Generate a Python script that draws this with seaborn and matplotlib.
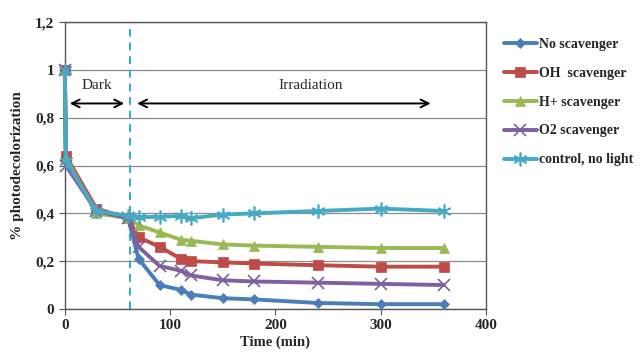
import matplotlib
matplotlib.use("Agg")
import matplotlib.pyplot as plt
import seaborn as sns
import pandas as pd

# Temps (min)
time = [0, 1, 30, 60, 70, 90, 110, 120, 150, 180, 240, 300, 360]

no_scav = [1.0, 0.64, 0.41, 0.38, 0.21, 0.10, 0.08, 0.06, 0.045, 0.04, 0.025, 0.02, 0.02]
oh_scav = [1.0, 0.64, 0.42, 0.38, 0.30, 0.26, 0.21, 0.20, 0.195, 0.19, 0.183, 0.177, 0.177]
h_scav = [1.0, 0.63, 0.40, 0.38, 0.35, 0.32, 0.29, 0.285, 0.27, 0.265, 0.26, 0.255, 0.255]
o2_scav = [1.0, 0.60, 0.41, 0.38, 0.26, 0.18, 0.16, 0.14, 0.12, 0.115, 0.11, 0.105, 0.10]
control = [1.0, 0.62, 0.41, 0.39, 0.385, 0.385, 0.39, 0.38, 0.395, 0.40, 0.41, 0.42, 0.41]

labels = ["No scavenger", "OH  scavenger", "H+ scavenger", "O2 scavenger", "control, no light"]
series = [no_scav, oh_scav, h_scav, o2_scav, control]
colors = ["#4A7EBB", "#BE4B48", "#98B954", "#7D60A0", "#46AAC5"]
markers = ["D", "s", "^", "x", (6, 2, 0)]
msizes = [5, 7, 7, 8, 10]

sns.set_style("white")
plt.rcParams["font.family"] = ["Liberation Serif", "DejaVu Serif"]

fig = plt.figure(figsize=(6.42, 3.58), dpi=100)
ax = fig.add_axes([0.101, 0.137, 0.656, 0.801])

for lab, vals, c, m, ms in zip(labels, series, colors, markers, msizes):
    df = pd.DataFrame({"t": time, "v": vals})
    sns.lineplot(data=df, x="t", y="v", ax=ax, color=c, marker=m, markersize=ms,
                 markeredgecolor=c, markeredgewidth=1.2 if m in ("x", (6, 2, 0)) else 0.5,
                 linewidth=2.8, label=lab, estimator=None, sort=False, legend=False,
                 clip_on=False, zorder=3)

ax.set_xlim(0, 400)
ax.set_ylim(0, 1.2)
ax.set_xticks([0, 100, 200, 300, 400])
ax.set_yticks([0, 0.2, 0.4, 0.6, 0.8, 1.0, 1.2])
ax.set_yticklabels(["0", "0,2", "0,4", "0,6", "0,8", "1", "1,2"])
ax.grid(axis="y", color="#8c8c8c", linewidth=0.9)
ax.set_axisbelow(True)
for s in ax.spines.values():
    s.set_color("#555555")
    s.set_linewidth(1.0)
ax.tick_params(axis="both", labelsize=11, length=4, color="#555555", direction="out")
ax.tick_params(axis="x", bottom=True)
ax.tick_params(axis="y", left=True)
for t in ax.get_xticklabels() + ax.get_yticklabels():
    t.set_fontweight("bold")

ax.set_xlabel("Time (min)", fontsize=10.5, fontweight="bold", labelpad=2)
ax.set_ylabel("% photodecolorization", fontsize=11, fontweight="bold", labelpad=8)

# Séparation obscurité / irradiation
ax.axvline(62, color="#2AB0C8", linestyle="--", linewidth=1.4, dashes=(4, 3))
ax.annotate("", xy=(2, 0.86), xytext=(59, 0.86),
            arrowprops=dict(arrowstyle="<->", color="black", lw=1.4, mutation_scale=14))
ax.annotate("", xy=(66, 0.86), xytext=(350, 0.86),
            arrowprops=dict(arrowstyle="<->", color="black", lw=1.4, mutation_scale=14))
ax.text(30, 0.935, "Dark", ha="center", va="center", fontsize=11)
ax.text(233, 0.935, "Irradiation", ha="center", va="center", fontsize=11)

handles, labs = ax.get_legend_handles_labels()
fig.legend(handles, labs, loc="upper left", bbox_to_anchor=(0.765, 0.93),
           frameon=False, prop={"weight": "bold", "size": 10},
           handlelength=2.4, handletextpad=0.15, labelspacing=1.15)

plt.savefig("out.png", dpi=100)
